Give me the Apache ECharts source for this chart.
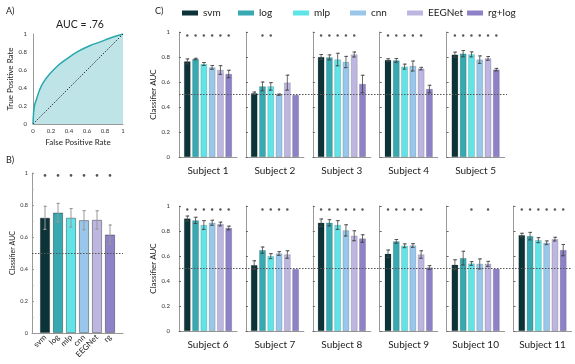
<!DOCTYPE html>
<html>
<head>
<meta charset="utf-8">
<script src="https://cdn.jsdelivr.net/npm/echarts@6/dist/echarts.min.js"></script>
<style>
html, body { margin: 0; padding: 0; background: #fff; }
#chart { width: 575px; height: 364px; }
</style>
</head>
<body>
<div id="chart"></div>
<script>
// model names (legend) and short labels for panel B
const models = ['svm', 'log', 'mlp', 'cnn', 'EEGNet', 'rg+log'];
const modelLabelsB = ['svm', 'log', 'mlp', 'cnn', 'EEGNet', 'rg'];

// panel A: ROC curve
const rocFPR = [0, 0.005, 0.01, 0.02, 0.037, 0.074, 0.11, 0.185, 0.278, 0.37, 0.5, 0.63, 0.74, 0.89, 1];
const rocTPR = [0, 0.1, 0.16, 0.22, 0.27, 0.38, 0.455, 0.555, 0.65, 0.72, 0.807, 0.87, 0.91, 0.967, 1];

// panel B: averaged over subjects
const overallAUC = [0.72, 0.752, 0.72, 0.705, 0.707, 0.615];
const overallErr = [0.072, 0.058, 0.058, 0.06, 0.057, 0.06];
const overallSig = [1, 1, 1, 1, 1, 1];

// panel C: per subject
const subjectAUC = [
    [0.765, 0.784, 0.744, 0.717, 0.696, 0.664],
    [0.51, 0.565, 0.565, 0.499, 0.595, 0.496],
    [0.80, 0.797, 0.78, 0.76, 0.82, 0.584],
    [0.776, 0.773, 0.723, 0.728, 0.707, 0.544],
    [0.819, 0.827, 0.821, 0.779, 0.789, 0.699],
    [0.90, 0.885, 0.848, 0.866, 0.856, 0.824],
    [0.527, 0.647, 0.599, 0.62, 0.612, 0.495],
    [0.866, 0.866, 0.848, 0.805, 0.762, 0.74],
    [0.618, 0.717, 0.682, 0.684, 0.612, 0.508],
    [0.53, 0.583, 0.54, 0.537, 0.537, 0.497],
    [0.767, 0.759, 0.727, 0.706, 0.735, 0.647]
];
const subjectErr = [
    [0.02, 0.006, 0.012, 0.015, 0.035, 0.03],
    [0.01, 0.035, 0.03, 0.005, 0.06, 0],
    [0.02, 0.02, 0.05, 0.045, 0.02, 0.07],
    [0.01, 0.015, 0.02, 0.04, 0.01, 0.03],
    [0.02, 0.025, 0.02, 0.03, 0.015, 0.01],
    [0.02, 0.025, 0.035, 0.02, 0.015, 0.015],
    [0.035, 0.025, 0.02, 0.015, 0.03, 0],
    [0.03, 0.025, 0.035, 0.045, 0.04, 0.03],
    [0.03, 0.015, 0.015, 0.015, 0.03, 0.015],
    [0.04, 0.055, 0.015, 0.04, 0.02, 0],
    [0.015, 0.03, 0.02, 0.015, 0.015, 0.045]
];
const subjectSig = [
    [1, 1, 1, 1, 1, 1],
    [0, 1, 1, 0, 0, 0],
    [1, 1, 1, 1, 1, 0],
    [1, 1, 1, 1, 1, 0],
    [1, 1, 1, 1, 1, 1],
    [1, 1, 1, 1, 1, 1],
    [0, 1, 1, 1, 1, 0],
    [1, 1, 1, 1, 1, 1],
    [1, 1, 1, 1, 1, 0],
    [0, 0, 1, 0, 1, 0],
    [1, 1, 1, 1, 1, 1]
];
const chanceLevel = 0.5;
const starLevel = 0.972;
const starLevelB = 0.985;

const colors = ['#0c3438', '#37a9b1', '#5fe5e8', '#98c7eb', '#bcb6e1', '#8f81c7'];
const font = 'Lato';

const chart = echarts.init(document.getElementById('chart'));

function tickFmt(v) {
    if (v === 0) return '0';
    if (v === 1) return '1';
    return v.toFixed(1);
}

// error bars: cap - stem - cap
function errRender(capW, color, lw) {
    return function (params, api) {
        const x = api.value(0);
        const lo = api.value(1), hi = api.value(2);
        if (hi - lo < 1e-6) return null;
        const p1 = api.coord([x, lo]);
        const p2 = api.coord([x, hi]);
        return {
            type: 'polyline',
            shape: {
                points: [
                    [p2[0] - capW, p2[1]], [p2[0] + capW, p2[1]], [p2[0], p2[1]],
                    [p1[0], p1[1]], [p1[0] - capW, p1[1]], [p1[0] + capW, p1[1]]
                ]
            },
            style: { stroke: color, lineWidth: lw, fill: null }
        };
    };
}

// significance markers
function starSeries(idx, pts, size) {
    return {
        type: 'scatter', xAxisIndex: idx, yAxisIndex: idx, z: 4, silent: true,
        symbol: 'circle', symbolSize: size, itemStyle: { color: '#2a2a2a' },
        data: pts
    };
}

const axisLineStyle = { show: true, onZero: false, lineStyle: { color: '#999' } };

let grids = [], xAxes = [], yAxes = [], series = [];

// ---- panel A ----
grids.push({ left: 33, top: 34, width: 90, height: 90 });
xAxes.push({
    gridIndex: 0, type: 'value', min: 0, max: 1, interval: 0.2,
    axisLine: axisLineStyle,
    axisTick: { show: false }, splitLine: { show: false },
    axisLabel: { fontSize: 6, color: '#333', margin: 4, formatter: tickFmt, fontFamily: font },
    name: 'False Positive Rate', nameLocation: 'middle', nameGap: 14,
    nameTextStyle: { fontSize: 8, color: '#222', fontFamily: font }
});
yAxes.push({
    gridIndex: 0, type: 'value', min: 0, max: 1, interval: 0.2,
    axisLine: axisLineStyle,
    axisTick: { show: false }, splitLine: { show: false },
    axisLabel: { fontSize: 6, color: '#333', margin: 6, formatter: tickFmt, fontFamily: font },
    name: 'True Positive Rate', nameLocation: 'middle', nameGap: 14,
    nameTextStyle: { fontSize: 8, color: '#222', fontFamily: font }
});
series.push({
    type: 'line', xAxisIndex: 0, yAxisIndex: 0, smooth: 0.3, symbol: 'none',
    data: rocFPR.map((f, i) => [f, rocTPR[i]]),
    lineStyle: { color: '#27a7ae', width: 1.5 },
    areaStyle: { color: '#bfe4e7', opacity: 1 }
});
series.push({
    type: 'line', xAxisIndex: 0, yAxisIndex: 0, symbol: 'none',
    data: [[0, 0], [1, 1]],
    lineStyle: { color: '#333', width: 1, type: [1.5, 1.5] }, z: 5
});

// ---- panel B ----
grids.push({ left: 32, top: 173, width: 91, height: 160 });
xAxes.push({
    gridIndex: 1, type: 'value', min: -1, max: 6, interval: 1,
    axisLine: axisLineStyle,
    axisTick: { show: false }, splitLine: { show: false },
    axisLabel: {
        fontSize: 8, color: '#222', rotate: 45, margin: 3, fontFamily: font,
        formatter: v => modelLabelsB[v] || ''
    }
});
yAxes.push({
    gridIndex: 1, type: 'value', min: 0, max: 1, interval: 0.2,
    axisLine: axisLineStyle,
    axisTick: { show: true, inside: true, length: 2, lineStyle: { color: '#999' } },
    minorTick: { show: true, splitNumber: 2, length: 1.5, lineStyle: { color: '#aaa' } },
    splitLine: { show: false },
    axisLabel: { fontSize: 5.5, color: '#333', margin: 4, formatter: tickFmt, fontFamily: font },
    name: 'Classifier AUC', nameLocation: 'middle', nameGap: 16,
    nameTextStyle: { fontSize: 7, color: '#222', fontFamily: font }
});
series.push({
    type: 'bar', xAxisIndex: 1, yAxisIndex: 1, barWidth: 10,
    data: overallAUC.map((v, i) => ({
        value: [i, v],
        itemStyle: { color: colors[i], borderColor: 'rgba(0,0,0,0.45)', borderWidth: 0.8 }
    })),
    markLine: {
        silent: true, symbol: 'none', label: { show: false },
        lineStyle: { color: '#555', width: 1, type: [1.5, 1.5] },
        data: [{ yAxis: chanceLevel }]
    }
});
series.push({
    type: 'custom', xAxisIndex: 1, yAxisIndex: 1, z: 4,
    renderItem: errRender(1.5, '#999', 1),
    encode: { x: 0, y: [1, 2] },
    data: overallAUC.map((v, i) => [i, v - overallErr[i], v + overallErr[i]])
});
series.push(starSeries(1, overallSig.map((s, i) => s ? [i, starLevelB] : null).filter(d => d), 2.6));

// ---- panel C ----
const rowTop = [32, 206];
subjectAUC.forEach((vals, k) => {
    const row = k < 5 ? 0 : 1;
    const col = k < 5 ? k : k - 5;
    const gi = grids.length;
    grids.push({ left: 179 + col * 66.9, top: rowTop[row], width: 58, height: 125 });
    xAxes.push({
        gridIndex: gi, type: 'value', min: -1, max: 6, interval: 1,
        axisLine: axisLineStyle,
        axisTick: { show: false }, axisLabel: { show: false }, splitLine: { show: false },
        name: 'Subject ' + (k + 1), nameLocation: 'middle', nameGap: 9,
        nameTextStyle: { fontSize: 10, color: '#222', fontFamily: font }
    });
    yAxes.push({
        gridIndex: gi, type: 'value', min: 0, max: 1, interval: 0.2,
        axisLine: axisLineStyle,
        axisTick: { show: true, inside: true, length: 2, lineStyle: { color: '#666' } },
        splitLine: { show: false },
        axisLabel: { show: col === 0, fontSize: 6, color: '#333', margin: 9, formatter: tickFmt, fontFamily: font },
        name: col === 0 ? 'Classifier AUC' : '', nameLocation: 'middle', nameGap: 20,
        nameTextStyle: { fontSize: 8, color: '#222', fontFamily: font }
    });
    series.push({
        type: 'bar', xAxisIndex: gi, yAxisIndex: gi, barWidth: 6.5,
        data: vals.map((v, i) => ({
            value: [i, v],
            itemStyle: { color: colors[i], borderColor: 'rgba(0,0,0,0.3)', borderWidth: 0.5 }
        }))
    });
    series.push({
        type: 'custom', xAxisIndex: gi, yAxisIndex: gi, z: 4,
        renderItem: errRender(1.8, '#444', 0.8),
        encode: { x: 0, y: [1, 2] },
        data: vals.map((v, i) => [i, v - subjectErr[k][i], v + subjectErr[k][i]])
    });
    series.push(starSeries(gi, subjectSig[k].map((s, i) => s ? [i, starLevel] : null).filter(d => d), 2.4));
});

// chance line overlays across each row of panel C
[[32, 328], [206, 393]].forEach(([top, width]) => {
    const gi = grids.length;
    grids.push({ left: 179, top: top, width: width, height: 125 });
    xAxes.push({ gridIndex: gi, type: 'value', min: 0, max: 1, show: false });
    yAxes.push({ gridIndex: gi, type: 'value', min: 0, max: 1, show: false });
    series.push({
        type: 'line', xAxisIndex: gi, yAxisIndex: gi, symbol: 'none', silent: true, z: 6,
        data: [[0, chanceLevel], [1, chanceLevel]],
        lineStyle: { color: '#555', width: 1, type: [1.5, 1.5] }
    });
});

// hidden grid holding the legend entries
const lg = grids.length;
grids.push({ left: -50, top: -50, width: 10, height: 10 });
xAxes.push({ gridIndex: lg, type: 'category', data: ['x'], show: false });
yAxes.push({ gridIndex: lg, type: 'value', show: false });
models.forEach((m, i) => {
    series.push({ type: 'bar', name: m, xAxisIndex: lg, yAxisIndex: lg, data: [], itemStyle: { color: colors[i] } });
});
const legendLeft = [177, 233, 288, 345, 402, 462];
const legends = models.map((m, i) => ({
    data: [m], left: legendLeft[i], top: 3, icon: 'rect',
    itemWidth: 16, itemHeight: 5, itemGap: 0, selectedMode: false,
    textStyle: { fontSize: 10, color: '#222', fontFamily: font }
}));

chart.setOption({
    animation: false,
    textStyle: { fontFamily: font },
    title: [
        { text: 'A)', left: 1, top: 2, textStyle: { fontSize: 9, fontWeight: 'normal', color: '#222', fontFamily: font } },
        { text: 'B)', left: 1, top: 151, textStyle: { fontSize: 9, fontWeight: 'normal', color: '#222', fontFamily: font } },
        { text: 'C)', left: 150, top: 2, textStyle: { fontSize: 9, fontWeight: 'normal', color: '#222', fontFamily: font } },
        { text: 'AUC = .76', left: 75, top: 14, textAlign: 'center', textStyle: { fontSize: 10.5, fontWeight: 'normal', color: '#222', fontFamily: font } }
    ],
    legend: legends,
    grid: grids,
    xAxis: xAxes,
    yAxis: yAxes,
    series: series
});
</script>
</body>
</html>
